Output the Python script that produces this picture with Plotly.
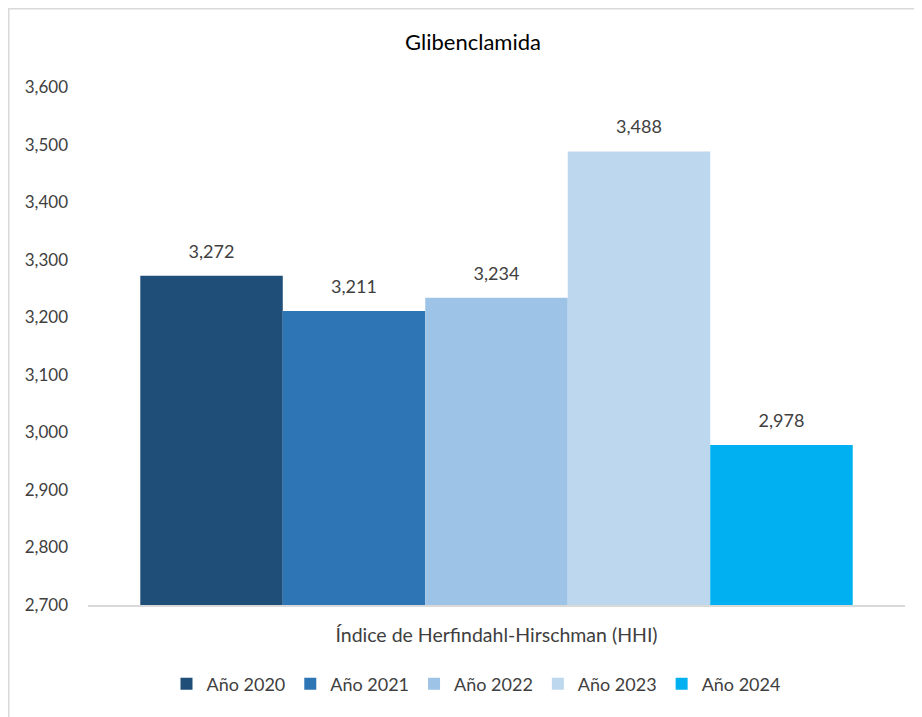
import plotly.graph_objects as go

category = ["Índice de Herfindahl-Hirschman (HHI)"]
series_names = ["Año 2020", "Año 2021", "Año 2022", "Año 2023", "Año 2024"]
values_2020 = [3272]
values_2021 = [3211]
values_2022 = [3234]
values_2023 = [3488]
values_2024 = [2978]
series_values = [values_2020, values_2021, values_2022, values_2023, values_2024]
colors = ["#1F4E79", "#2E75B6", "#9DC3E6", "#BDD7EE", "#00B0F0"]
y_ticks = [2700, 2800, 2900, 3000, 3100, 3200, 3300, 3400, 3500, 3600]

FONT = "Lato, Carlito, sans-serif"
OFF = 8  # page body margin

fig = go.Figure()
for name, vals, col in zip(series_names, series_values, colors):
    fig.add_trace(go.Bar(
        x=category, y=vals, name=name, marker=dict(color=col, line=dict(width=0)),
    ))
for name, vals in zip(series_names, series_values):
    fig.add_trace(go.Scatter(
        x=category, y=vals, name=name, mode="markers+text", showlegend=False,
        marker=dict(size=20, opacity=0), hoverinfo="skip",
        text=[f"{v:,}" for v in vals], textposition="top center", cliponaxis=False,
        textfont=dict(size=18, color="#404040", family=FONT),
    ))

W, H = 922, 717
L, T = 88 - OFF, 87 - OFF
R = W - (905 - OFF)
B = H - (605 - OFF)
pw, ph = W - L - R, H - T - B

fig.update_layout(
    width=W, height=H,
    margin=dict(l=L, r=R, t=T, b=B),
    paper_bgcolor="white", plot_bgcolor="white",
    barmode="group", bargap=0.128, bargroupgap=0,
    scattermode="group", scattergap=0.128,
    font=dict(family=FONT, color="#404040"),
    title=dict(text="Glibenclamida", x=(473 - OFF) / W, xref="container", xanchor="center",
               y=1 - (42 - OFF) / H, yref="container", yanchor="middle",
               font=dict(size=22, color="black", family=FONT)),
    showlegend=True,
    legend=dict(orientation="h", x=(476 - 88) / pw, xanchor="center",
                y=-(684 - 605) / ph, yanchor="middle",
                font=dict(size=18, color="#404040", family=FONT),
                traceorder="normal", itemwidth=30),
)
fig.update_yaxes(range=[2700, 3600], tickvals=y_ticks, ticktext=[f"{v:,}" for v in y_ticks],
                 showgrid=False, zeroline=False, showline=False, ticks="",
                 ticklabelstandoff=19, tickfont=dict(size=17, color="#404040", family=FONT))
fig.update_xaxes(showgrid=False, showline=True, linecolor="#D9D9D9", linewidth=1.5,
                 ticks="", ticklabelstandoff=12,
                 tickfont=dict(size=19.5, color="#404040", family=FONT))

fig.add_shape(type="rect", xref="paper", yref="paper",
              x0=(0.75 - L) / pw, x1=(W + 20 - L) / pw,
              y0=-(H + 20 - (H - B)) / ph, y1=1 + (T - 0.75) / ph,
              line=dict(color="#D9D9D9", width=1.5), fillcolor="rgba(0,0,0,0)", layer="below")

fig.write_html("out.html")
